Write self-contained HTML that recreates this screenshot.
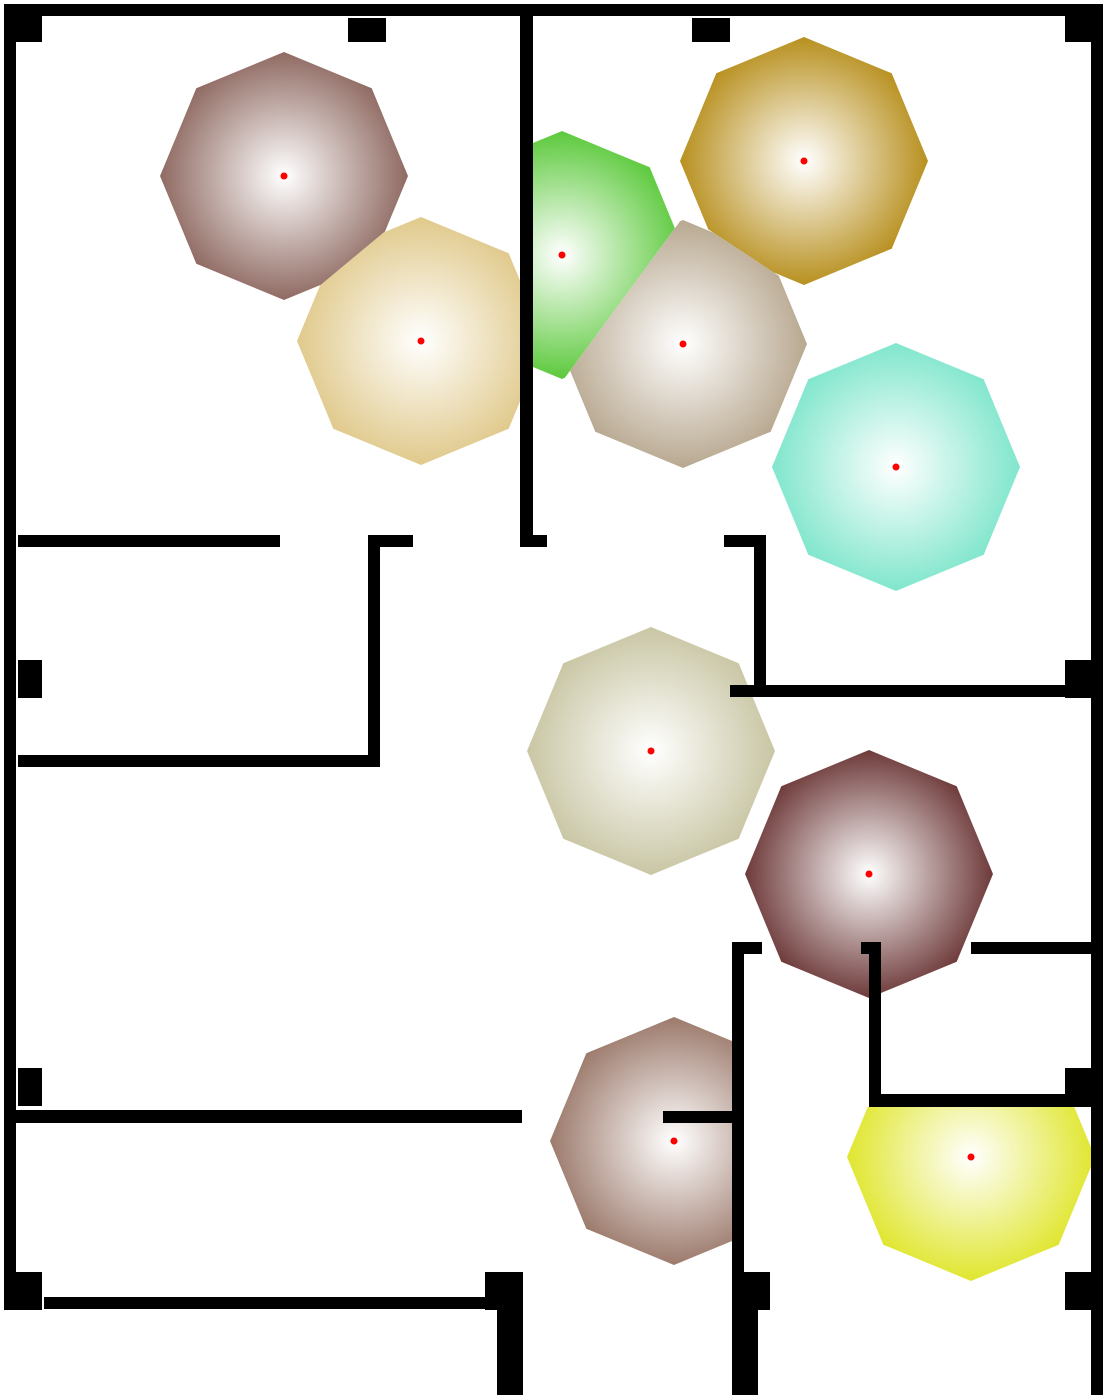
<!DOCTYPE html>
<html><head><meta charset="utf-8"><style>
html,body{margin:0;padding:0;background:#fff;}
svg{display:block;}
</style></head><body>
<svg id="plan" width="1103" height="1398" viewBox="0 0 1103 1398" xmlns="http://www.w3.org/2000/svg">
<defs id="defs"></defs>
<g id="zones"></g>
<g id="walls" fill="#000">
<rect x="4" y="4" width="38" height="38"/>
<rect x="42" y="4" width="1023" height="12"/>
<rect x="1065" y="4" width="38" height="38"/>
<rect x="348" y="18" width="38" height="24"/>
<rect x="692" y="18" width="38" height="24"/>
<rect x="4" y="42" width="12" height="1230"/>
<rect x="1091" y="42" width="12" height="1230"/>
<rect x="520" y="16" width="13" height="530"/>
<rect x="18" y="535" width="262" height="12"/>
<rect x="368" y="535" width="45" height="12"/>
<rect x="520" y="535" width="27" height="12"/>
<rect x="724" y="535" width="42" height="12"/>
<rect x="368" y="535" width="12" height="232"/>
<rect x="18" y="755" width="362" height="12"/>
<rect x="754" y="535" width="12" height="162"/>
<rect x="730" y="685" width="335" height="12"/>
<rect x="1065" y="660" width="26" height="38"/>
<rect x="18" y="660" width="24" height="38"/>
<rect x="18" y="1068" width="24" height="38"/>
<rect x="4" y="1110" width="518" height="13"/>
<rect x="4" y="1272" width="38" height="38"/>
<rect x="44" y="1297" width="441" height="12"/>
<rect x="485" y="1272" width="38" height="38"/>
<rect x="497" y="1310" width="26" height="85"/>
<rect x="732" y="1272" width="38" height="38"/>
<rect x="732" y="1310" width="26" height="85"/>
<rect x="1065" y="1272" width="38" height="38"/>
<rect x="1091" y="1310" width="12" height="85"/>
<rect x="732" y="942" width="12" height="330"/>
<rect x="732" y="942" width="30" height="12"/>
<rect x="663" y="1111" width="77" height="12"/>
<rect x="869" y="942" width="12" height="164"/>
<rect x="861" y="942" width="20" height="12"/>
<rect x="869" y="1094" width="222" height="13"/>
<rect x="1065" y="1068" width="26" height="38"/>
<rect x="971" y="942" width="120" height="12"/>
</g>
</svg>
<script>
const zoneX = [284, 421, 562, 804, 683, 896, 651, 869, 674, 971];
const zoneY = [176, 341, 255, 161, 344, 467, 751, 874, 1141, 1157];
const zoneColors = ["#8f6a62","#e0c98b","#5cc93c","#b8901f","#b8a890","#80e6cc","#c9c6a4","#6e3a3a","#9c7a6c","#e0e62e"];
const zoneRoom = [0, 0, 1, 1, 1, 1, 2, 3, 4, 5];
// room bounds per zone: [xmin, xmax, ymin, ymax]
const zoneBounds = [
  [16,520,16,1398],[16,520,16,1398],[533,1091,16,1398],[533,1091,16,1398],[533,1091,16,1398],
  [533,1091,16,1398],[0,1103,0,1398],[0,1103,0,1398],[0,732,0,1398],[0,1091,1107,1398]
];
const R = 124;
const NS = "http://www.w3.org/2000/svg";
const defs = document.getElementById('defs');
const zones = document.getElementById('zones');
const svg = document.getElementById('plan');

function clipHalf(poly, nx, ny, c) {
  const out = [];
  for (let i = 0; i < poly.length; i++) {
    const a = poly[i], b = poly[(i + 1) % poly.length];
    const da = nx * a[0] + ny * a[1] - c, db = nx * b[0] + ny * b[1] - c;
    if (da <= 0) out.push(a);
    if ((da < 0 && db > 0) || (da > 0 && db < 0)) {
      const t = da / (da - db);
      out.push([a[0] + t * (b[0] - a[0]), a[1] + t * (b[1] - a[1])]);
    }
  }
  return out;
}

const dots = [];
for (let i = 0; i < zoneX.length; i++) {
  const cx = zoneX[i], cy = zoneY[i];
  const g = document.createElementNS(NS, 'radialGradient');
  g.setAttribute('id', 'grad' + i);
  g.setAttribute('gradientUnits', 'userSpaceOnUse');
  g.setAttribute('cx', cx); g.setAttribute('cy', cy); g.setAttribute('r', R);
  const s1 = document.createElementNS(NS, 'stop');
  s1.setAttribute('offset', '0'); s1.setAttribute('stop-color', '#ffffff');
  const s2 = document.createElementNS(NS, 'stop');
  s2.setAttribute('offset', '1'); s2.setAttribute('stop-color', zoneColors[i]);
  g.appendChild(s1); g.appendChild(s2); defs.appendChild(g);
  let poly = [];
  for (let k = 0; k < 8; k++) {
    const a = k * Math.PI / 4;
    poly.push([cx + R * Math.cos(a), cy + R * Math.sin(a)]);
  }
  for (let j = 0; j < zoneX.length; j++) {
    if (j === i || zoneRoom[j] !== zoneRoom[i]) continue;
    const nx = zoneX[j] - cx, ny = zoneY[j] - cy;
    const mx = (zoneX[j] + cx) / 2, my = (zoneY[j] + cy) / 2;
    poly = clipHalf(poly, nx, ny, nx * mx + ny * my);
  }
  const b = zoneBounds[i];
  poly = clipHalf(poly, -1, 0, -b[0]);
  poly = clipHalf(poly, 1, 0, b[1]);
  poly = clipHalf(poly, 0, -1, -b[2]);
  poly = clipHalf(poly, 0, 1, b[3]);
  const p = document.createElementNS(NS, 'polygon');
  p.setAttribute('points', poly.map(q => q[0].toFixed(1) + ',' + q[1].toFixed(1)).join(' '));
  p.setAttribute('fill', 'url(#grad' + i + ')');
  
  
  zones.appendChild(p);
  const d = document.createElementNS(NS, 'circle');
  d.setAttribute('cx', cx); d.setAttribute('cy', cy); d.setAttribute('r', 3.5);
  d.setAttribute('fill', '#ff0000');
  
  
  dots.push(d);
}
dots.forEach(d => svg.appendChild(d));
</script>
</body></html>
